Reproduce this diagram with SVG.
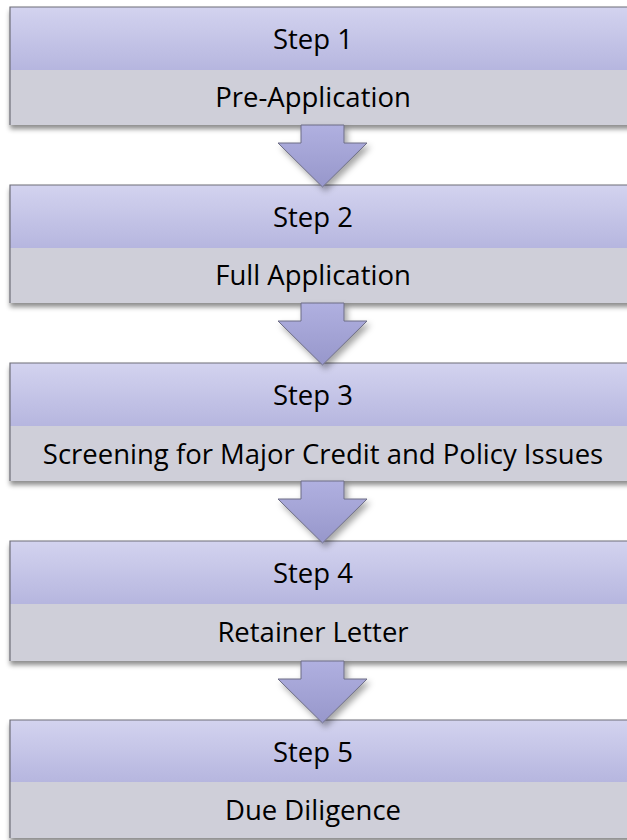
<svg xmlns="http://www.w3.org/2000/svg" width="627" height="840" viewBox="0 0 627 840">
  <defs>
    <linearGradient id="headGrad" x1="0" y1="0" x2="0" y2="1">
      <stop offset="0" stop-color="#d3d3ef"/>
      <stop offset="1" stop-color="#b6b6df"/>
    </linearGradient>
    <linearGradient id="arrowGrad" x1="0" y1="0" x2="0" y2="1">
      <stop offset="0" stop-color="#b0b0e0"/>
      <stop offset="1" stop-color="#9797cb"/>
    </linearGradient>
    <filter id="boxShadow" x="-5%" y="-10%" width="110%" height="130%">
      <feGaussianBlur in="SourceAlpha" stdDeviation="2.5"/>
      <feOffset dx="0" dy="4" result="blur"/>
      <feFlood flood-color="#000" flood-opacity="0.45"/>
      <feComposite in2="blur" operator="in"/>
      <feMerge>
        <feMergeNode/>
        <feMergeNode in="SourceGraphic"/>
      </feMerge>
    </filter>
    <filter id="arrowShadow" x="-30%" y="-20%" width="160%" height="160%">
      <feGaussianBlur in="SourceAlpha" stdDeviation="3"/>
      <feOffset dx="3" dy="4" result="blur"/>
      <feFlood flood-color="#000" flood-opacity="0.35"/>
      <feComposite in2="blur" operator="in"/>
      <feMerge>
        <feMergeNode/>
        <feMergeNode in="SourceGraphic"/>
      </feMerge>
    </filter>
    <!-- one down arrow, origin at the bottom edge of the box above -->
    <path id="downArrow" d="M301,0 L344,0 L344,18 L367,18 L322.5,62 L278,18 L301,18 Z"/>
  </defs>
  <style>
    .head { fill: url(#headGrad); }
    .body { fill: #cfcfd9; }
    .frame { fill: none; stroke: #6e6e78; stroke-width: 1.2; }
    .step, .label { font-family: "Open Sans", "Noto Sans", sans-serif; font-size: 27.5px; fill: #000; text-anchor: middle; }
    .arrow { fill: url(#arrowGrad); stroke: #6c6c84; stroke-width: 1; filter: url(#arrowShadow); }
  </style>

  <rect width="627" height="840" fill="#ffffff"/>

  <g id="step1" transform="translate(0,7)">
    <g filter="url(#boxShadow)">
      <rect class="head" x="10" y="0" width="630" height="63"/>
      <rect class="body" x="10" y="63" width="630" height="55"/>
    </g>
    <path class="frame" d="M10,118 L10,0 L640,0"/>
    <text class="step" x="313" y="42">Step 1</text>
    <text class="label" x="313" y="100">Pre-Application</text>
  </g>

  <g id="step2" transform="translate(0,185)">
    <g filter="url(#boxShadow)">
      <rect class="head" x="10" y="0" width="630" height="63"/>
      <rect class="body" x="10" y="63" width="630" height="55"/>
    </g>
    <path class="frame" d="M10,118 L10,0 L640,0"/>
    <text class="step" x="313" y="42">Step 2</text>
    <text class="label" x="313" y="100">Full Application</text>
  </g>

  <g id="step3" transform="translate(0,363)">
    <g filter="url(#boxShadow)">
      <rect class="head" x="10" y="0" width="630" height="63"/>
      <rect class="body" x="10" y="63" width="630" height="55"/>
    </g>
    <path class="frame" d="M10,118 L10,0 L640,0"/>
    <text class="step" x="313" y="42">Step 3</text>
    <text class="label" x="323" y="101">Screening for Major Credit and Policy Issues</text>
  </g>

  <g id="step4" transform="translate(0,541)">
    <g filter="url(#boxShadow)">
      <rect class="head" x="10" y="0" width="630" height="63"/>
      <rect class="body" x="10" y="63" width="630" height="57"/>
    </g>
    <path class="frame" d="M10,120 L10,0 L640,0"/>
    <text class="step" x="313" y="42">Step 4</text>
    <text class="label" x="313" y="101">Retainer Letter</text>
  </g>

  <g id="step5" transform="translate(0,720)">
    <g filter="url(#boxShadow)">
      <rect class="head" x="10" y="0" width="630" height="62"/>
      <rect class="body" x="10" y="62" width="630" height="56"/>
    </g>
    <path class="frame" d="M10,118 L10,0 L640,0"/>
    <text class="step" x="313" y="42">Step 5</text>
    <text class="label" x="313" y="100">Due Diligence</text>
  </g>

  <g id="connectors">
    <use href="#downArrow" class="arrow" transform="translate(0,125)"/>
    <use href="#downArrow" class="arrow" transform="translate(0,303)"/>
    <use href="#downArrow" class="arrow" transform="translate(0,481)"/>
    <use href="#downArrow" class="arrow" transform="translate(0,661)"/>
  </g>
</svg>
